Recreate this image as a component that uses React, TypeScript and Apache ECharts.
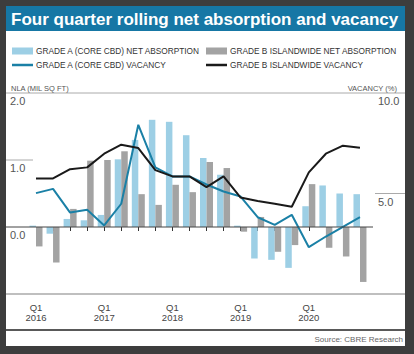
import React, { useEffect, useRef } from "react";
import * as echarts from "echarts";

const quarters = [
  "Q1 2016", "Q2 2016", "Q3 2016", "Q4 2016",
  "Q1 2017", "Q2 2017", "Q3 2017", "Q4 2017",
  "Q1 2018", "Q2 2018", "Q3 2018", "Q4 2018",
  "Q1 2019", "Q2 2019", "Q3 2019", "Q4 2019",
  "Q1 2020", "Q2 2020", "Q3 2020", "Q4 2020",
];
const gradeAAbsorption = [0.02, -0.1, 0.12, 0.1, 0.18, 1.01, 1.3, 1.6, 1.57, 1.37, 1.03, 0.78, 0.02, -0.47, -0.49, -0.61, 0.31, 0.62, 0.5, 0.49];
const gradeBAbsorption = [-0.29, -0.53, 0.27, 0.99, 1.0, 1.13, 0.49, 0.33, 0.63, 0.52, 0.97, 0.88, -0.07, 0.15, -0.37, -0.27, 0.64, -0.31, -0.44, -0.82];
const gradeAVacancy = [5.02, 5.23, 4.05, 4.19, 3.41, 4.49, 8.42, 6.3, 5.85, 5.85, 5.45, 5.1, 4.85, 3.82, 3.44, 3.94, 2.33, 2.86, 3.34, 3.82];
const gradeBVacancy = [5.75, 5.75, 6.21, 6.3, 6.98, 7.43, 7.26, 6.16, 5.85, 5.85, 5.32, 5.85, 4.8, 4.63, 4.49, 4.34, 6.05, 6.98, 7.38, 7.28];

const nlaTicks = { min: -1, max: 2, interval: 1 };
const vacTicks = { min: 0, max: 10, interval: 5 };

const NAMES = {
  aAbs: "GRADE A (CORE CBD) NET ABSORPTION",
  bAbs: "GRADE B ISLANDWIDE NET ABSORPTION",
  aVac: "GRADE A (CORE CBD) VACANCY",
  bVac: "GRADE B ISLANDWIDE VACANCY",
};

const FONT = "Liberation Sans";
const C = {
  frame: "#3d3d3d",
  title: "#1677a5",
  lightBlue: "#9dcfe5",
  gray: "#a3a3a3",
  blueLine: "#1a80a6",
  black: "#1a1a1a",
  text: "#333",
  axisText: "#555",
  rule: "#aaaaaa",
};

const LINE_ICON = "path://M0,0 L21,0 L21,2.5 L0,2.5 Z";

export default function App() {
  const ref = useRef<HTMLDivElement>(null);
  useEffect(() => {
    if (!ref.current) return;
    const chart = echarts.init(ref.current, null, { renderer: "svg" });
    const legendBase = {
      orient: "horizontal",
      itemWidth: 21,
      itemHeight: 7,
      itemGap: 0,
      padding: 0,
      selectedMode: false,
      textStyle: { fontFamily: FONT, fontSize: 8.3, color: C.text, padding: [0, 0, 0, -2] },
    };
    const option: any = {
      animation: false,
      backgroundColor: C.frame,
      textStyle: { fontFamily: FONT },
      legend: [
        { ...legendBase, left: 12, top: 47, data: [{ name: NAMES.aAbs, icon: "rect" }] },
        { ...legendBase, left: 206, top: 47, data: [{ name: NAMES.bAbs, icon: "rect" }] },
        { ...legendBase, left: 12, top: 61, data: [{ name: NAMES.aVac, icon: LINE_ICON }] },
        { ...legendBase, left: 206, top: 61, data: [{ name: NAMES.bVac, icon: LINE_ICON }] },
      ],
      grid: { left: 27.47, right: 45.5, top: 93, bottom: 60, containLabel: false },
      xAxis: {
        type: "category",
        data: quarters,
        boundaryGap: true,
        axisLine: { show: false },
        axisTick: { show: true, alignWithLabel: true, interval: 0, length: 4, lineStyle: { color: "#333", width: 1 } },
        axisLabel: {
          interval: 0,
          margin: 8,
          fontFamily: FONT,
          fontSize: 9.5,
          lineHeight: 10.5,
          color: "#444",
          formatter: (v: string) => (v.startsWith("Q1") ? v.replace(" ", "\n") : ""),
        },
        splitLine: { show: false },
      },
      yAxis: [
        {
          type: "value",
          ...nlaTicks,
          position: "left",
          axisLine: { show: false },
          axisTick: { show: false },
          splitLine: { show: false },
          axisLabel: {
            align: "left",
            verticalAlign: "top",
            margin: 17.5,
            fontFamily: FONT,
            fontSize: 11,
            lineHeight: 12,
            padding: [2, 0, 0, 0],
            color: C.axisText,
            formatter: (v: number) => (v === nlaTicks.min ? "" : v.toFixed(1)),
          },
        },
        {
          type: "value",
          ...vacTicks,
          position: "right",
          axisLine: { show: false },
          axisTick: { show: false },
          splitLine: { show: false },
          axisLabel: {
            align: "left",
            verticalAlign: "top",
            margin: 9.5,
            fontFamily: FONT,
            fontSize: 11,
            lineHeight: 12,
            padding: [2, 0, 0, 0],
            color: C.axisText,
            formatter: (v: number) => (v === vacTicks.min ? "" : v.toFixed(1)),
          },
        },
      ],
      series: [
        {
          name: NAMES.aAbs,
          type: "bar",
          yAxisIndex: 0,
          data: gradeAAbsorption,
          barWidth: 6.5,
          barGap: "0%",
          itemStyle: { color: C.lightBlue },
          z: 2,
        },
        {
          name: NAMES.bAbs,
          type: "bar",
          yAxisIndex: 0,
          data: gradeBAbsorption,
          barWidth: 6.5,
          barGap: "0%",
          itemStyle: { color: C.gray },
          z: 2,
        },
        {
          name: NAMES.aVac,
          type: "line",
          yAxisIndex: 1,
          data: gradeAVacancy,
          symbol: "none",
          lineStyle: { color: C.blueLine, width: 2 },
          itemStyle: { color: C.blueLine },
          z: 4,
        },
        {
          name: NAMES.bVac,
          type: "line",
          yAxisIndex: 1,
          data: gradeBVacancy,
          symbol: "none",
          lineStyle: { color: C.black, width: 2 },
          itemStyle: { color: C.black },
          z: 5,
        },
      ],
    };
    chart.setOption(option);

    const yL = (v: number) => chart.convertToPixel({ yAxisIndex: 0 }, v) as number;
    const yR = (v: number) => chart.convertToPixel({ yAxisIndex: 1 }, v) as number;
    const yTop = yL(nlaTicks.max);
    const yBottom = yL(nlaTicks.min);
    const y0 = yL(0);
    const y1 = yL(1);
    const y5 = yR(5);

    chart.setOption({
      graphic: [
        { type: "rect", z: -10, shape: { x: 6, y: 6, width: 399, height: 340 }, style: { fill: "#ffffff" } },
        { type: "rect", z: -9, shape: { x: 6, y: 6, width: 399, height: 25 }, style: { fill: C.title } },
        {
          type: "text",
          x: 11,
          y: 19,
          style: {
            text: "Four quarter rolling net absorption and vacancy",
            fontFamily: FONT,
            fontWeight: "bold",
            fontSize: 17,
            fill: "#ffffff",
            verticalAlign: "middle",
          },
        },
        {
          type: "text",
          x: 11,
          y: 88,
          style: { text: "NLA (MIL SQ FT)", fontFamily: FONT, fontSize: 7.5, fill: C.axisText, verticalAlign: "middle" },
        },
        {
          type: "text",
          x: 397,
          y: 88,
          style: { text: "VACANCY (%)", fontFamily: FONT, fontSize: 7.5, fill: C.axisText, align: "right", verticalAlign: "middle" },
        },
        { type: "line", z: -5, shape: { x1: 6, y1: yTop, x2: 405, y2: yTop }, style: { stroke: C.rule, lineWidth: 1 } },
        { type: "line", z: -5, shape: { x1: 6, y1: y1, x2: 33, y2: y1 }, style: { stroke: C.rule, lineWidth: 1 } },
        { type: "line", z: -5, shape: { x1: 375, y1: y5, x2: 405, y2: y5 }, style: { stroke: C.rule, lineWidth: 1 } },
        { type: "line", z: 10, shape: { x1: 6, y1: y0, x2: 373, y2: y0 }, style: { stroke: "#444", lineWidth: 1 } },
        { type: "line", z: -5, shape: { x1: 6, y1: yBottom, x2: 405, y2: yBottom }, style: { stroke: C.rule, lineWidth: 1.5 } },
        { type: "line", z: -5, shape: { x1: 6, y1: 330, x2: 405, y2: 330 }, style: { stroke: "#222", lineWidth: 1.5 } },
        {
          type: "text",
          x: 403,
          y: 339,
          style: { text: "Source: CBRE Research", fontFamily: FONT, fontSize: 8, fill: "#666", align: "right", verticalAlign: "middle" },
        },
      ],
    });

    return () => chart.dispose();
  }, []);
  return (
    <div
      ref={ref}
      style={{ position: "fixed", left: 0, top: 0, width: 414, height: 354 }}
    />
  );
}
